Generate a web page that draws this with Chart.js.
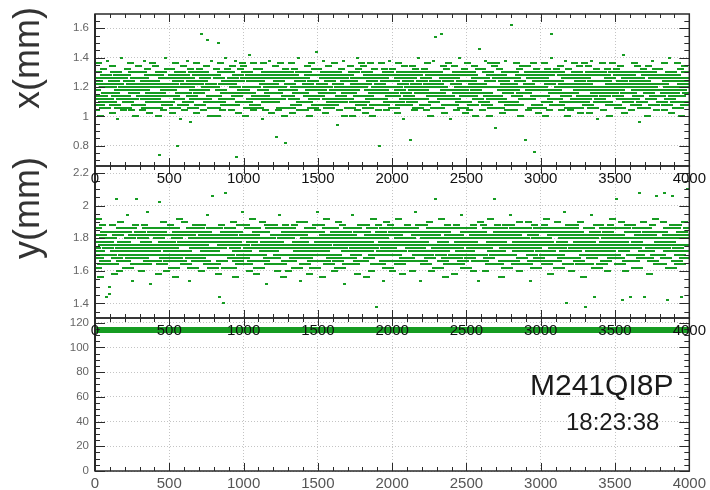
<!DOCTYPE html>
<html>
<head>
<meta charset="utf-8">
<script src="https://cdn.jsdelivr.net/npm/chart.js@4.4.1/dist/chart.umd.min.js"></script>
<style>
  html, body { margin: 0; padding: 0; background: #fff; }
  #wrap { position: relative; width: 710px; height: 490px; overflow: hidden; font-family: "Liberation Sans", Arial, sans-serif; }
  #wrap canvas { position: absolute; left: 0; top: 0; }
  .ytitle { position: absolute; font-size: 36px; line-height: 1; color: #333; white-space: nowrap; transform: translate(-50%, -50%) rotate(-90deg); }
  .note { position: absolute; line-height: 1; color: #1a1a1a; white-space: nowrap; }
</style>
</head>
<body>
<div id="wrap">
  <canvas id="cRate" width="710" height="490"></canvas>
  <canvas id="cY" width="710" height="490"></canvas>
  <canvas id="cX" width="710" height="490"></canvas>
  <div class="ytitle" style="left:27px;top:58px">x(mm)</div>
  <div class="ytitle" style="left:27px;top:208px">y(mm)</div>
  <div class="note" style="left:530px;top:370px;font-size:30px">M241QI8P</div>
  <div class="note" style="left:566px;top:410px;font-size:24px">18:23:38</div>
</div>
<script>
// ── beam position monitor, 4000 events ────────────────────────────────────────
// x/y positions are stored in 1/100 mm, one value every SAMPLE_STEP events.
const SAMPLE_STEP = 5;

const xTicks    = [0, 500, 1000, 1500, 2000, 2500, 3000, 3500, 4000];
const xPosTicks = [0.8, 1, 1.2, 1.4, 1.6];
const yPosTicks = [1.4, 1.6, 1.8, 2, 2.2];
const rateTicks = [0, 20, 40, 60, 80, 100, 120];

const xPosCenti = [
  118,130,104,124,112,136,108,122,100,126,114,132,110,120,106,128,116,138,112,122,
  126,110,120,102,134,116,124,108,130,114,98,122,128,106,118,140,112,126,104,120,
  114,128,106,120,132,110,124,118,136,104,122,112,130,116,100,126,108,120,134,118,
  108,122,130,114,104,126,118,138,112,124,106,132,120,102,128,116,110,122,136,114,
  124,112,134,106,120,128,100,74,116,130,110,122,104,126,114,140,118,108,132,120,
  110,126,118,132,102,122,114,128,106,136,120,80,124,112,130,98,116,126,108,134,
  128,104,122,116,138,110,126,120,132,96,114,124,106,130,118,112,136,102,122,128,
  116,132,108,156,124,130,104,118,126,112,134,120,152,110,128,100,122,138,114,106,
  120,106,128,114,132,100,150,126,110,136,118,104,130,122,112,140,116,108,124,132,
  112,130,116,122,104,134,126,108,120,138,72,114,128,102,124,116,132,110,136,118,
  134,118,100,126,110,130,120,106,142,116,128,112,124,104,136,120,108,132,114,126,
  106,124,132,112,128,98,118,136,114,122,104,130,110,126,120,138,116,102,128,112,
  122,110,126,134,86,116,130,104,124,112,136,120,106,128,118,100,132,82,114,126,
  130,114,106,122,136,118,102,128,112,132,120,108,126,116,140,104,124,130,110,120,
  116,126,120,104,130,110,134,122,114,100,128,118,136,106,124,112,132,120,144,108,
  104,132,114,128,118,122,108,138,116,126,102,130,120,112,134,106,124,116,128,110,
  126,108,136,118,112,130,94,122,128,104,120,114,132,110,126,138,100,118,124,116,
  112,128,120,106,134,116,124,100,130,118,110,126,122,140,104,132,114,120,108,136,
  120,134,110,126,102,122,130,114,106,128,118,136,112,124,100,116,132,108,126,120,
  118,104,128,80,122,136,112,126,118,108,132,116,124,104,130,120,110,138,114,128,
  132,116,106,124,114,128,120,102,136,110,126,118,108,130,122,98,134,112,128,116,
  108,124,130,114,120,84,126,110,134,118,104,132,122,112,128,106,140,120,116,130,
  124,112,118,132,108,126,104,136,116,122,130,100,128,114,120,138,110,124,154,106,
  114,130,122,106,128,116,156,120,112,134,102,126,118,132,108,124,136,114,98,128,
  128,118,108,126,134,112,122,104,130,116,140,120,110,128,124,106,118,132,114,102,
  110,136,120,116,104,130,124,114,128,108,122,134,100,118,126,112,132,146,120,116,
  122,104,132,110,126,120,138,108,116,130,114,100,124,136,112,128,106,120,134,92,
  136,114,126,120,106,132,112,128,102,118,124,110,138,122,130,104,116,126,108,120,
  162,122,110,130,118,104,126,136,114,120,108,132,124,100,128,116,134,112,120,84,
  116,128,134,104,122,112,130,118,126,106,136,120,76,114,132,108,124,102,128,118,
  130,106,120,126,114,136,100,124,110,132,118,128,104,122,140,156,112,130,116,108,
  118,132,112,124,130,108,120,134,104,116,128,122,110,138,114,126,100,120,132,106,
  104,120,128,116,110,126,136,112,122,130,106,118,134,124,102,128,114,120,110,136,
  126,112,122,108,134,118,102,130,138,114,124,106,128,120,116,132,98,124,110,118,
  112,130,116,136,120,104,128,114,124,110,132,118,100,126,122,108,136,116,130,120,
  120,108,132,122,114,128,118,106,134,124,112,142,120,102,130,116,126,110,122,128,
  128,116,104,130,120,112,136,124,108,118,134,114,126,96,122,130,110,120,106,132,
  106,124,118,128,100,134,116,122,130,112,120,138,108,126,114,132,104,118,128,122,
  132,114,126,110,122,118,104,136,116,128,108,124,120,140,112,130,102,126,118,114,
  116,128,110,120,136,106,124,114,132,118,100,126,122,110,134,120,108,130,116,124
];

const yPosCenti = [
  174,186,162,178,168,192,172,156,182,170,188,164,176,180,166,184,144,174,178,150,
  146,180,170,188,164,176,158,184,172,204,168,182,176,160,190,174,166,186,178,170,
  178,166,184,172,194,162,176,180,168,186,154,174,182,170,188,164,204,176,172,182,
  170,184,176,160,180,168,188,174,164,178,196,172,186,166,176,152,182,170,184,174,
  182,172,166,186,176,158,180,202,170,184,164,174,190,178,168,182,160,176,186,172,
  166,178,188,170,182,174,162,186,176,156,180,168,184,172,192,176,166,182,170,178,
  176,190,172,164,184,178,170,154,182,168,186,176,162,180,174,188,170,166,178,184,
  186,168,180,174,160,188,176,182,166,172,184,194,170,178,164,180,174,186,206,162,
  172,182,164,178,186,170,158,144,180,174,188,166,176,140,182,208,170,184,162,178,
  180,170,186,162,176,182,168,190,174,156,178,184,166,172,188,176,164,180,170,196,
  168,176,182,172,188,164,180,174,160,186,170,178,192,166,182,174,186,158,176,180,
  184,162,174,180,170,190,176,166,184,172,178,152,188,174,168,180,164,186,176,172,
  174,188,168,176,182,160,186,178,170,194,164,182,174,180,156,176,188,170,166,184,
  160,180,176,186,166,174,182,170,188,168,176,184,162,178,172,190,174,154,182,170,
  178,172,190,164,180,176,168,184,174,158,186,170,180,166,184,176,162,188,172,196,
  170,184,166,178,174,188,156,180,172,182,166,176,192,170,186,164,178,174,182,168,
  186,174,180,160,184,170,178,166,190,176,162,182,174,188,168,180,152,176,184,172,
  164,178,186,172,168,182,176,194,164,180,174,170,186,158,178,184,166,188,172,176,
  176,166,174,184,180,156,188,172,178,168,182,176,160,186,174,192,170,180,164,138,
  182,188,170,176,164,184,172,180,154,178,186,166,174,190,170,162,182,176,188,174,
  172,160,184,178,186,170,166,182,176,192,164,180,172,186,158,176,184,168,178,180,
  188,176,168,166,180,174,184,160,186,172,178,196,166,182,176,170,188,174,154,184,
  166,182,178,188,172,164,180,176,170,184,190,168,176,160,186,180,172,182,204,176,
  180,174,162,184,176,186,170,192,166,178,172,184,156,180,168,188,174,164,182,176,
  174,186,176,170,158,180,188,168,182,174,164,178,186,172,194,166,180,176,170,184,
  162,176,184,180,172,168,186,174,178,160,188,170,182,176,166,184,154,180,174,190,
  184,170,166,188,176,182,160,180,174,186,168,176,192,164,178,182,172,186,204,170,
  176,180,188,164,184,172,178,156,186,170,182,166,174,188,180,162,176,184,170,194,
  170,188,174,180,166,186,176,182,164,178,172,190,160,184,176,168,186,174,180,172,
  186,164,178,172,190,176,154,184,170,182,166,178,188,174,162,180,176,186,168,184,
  178,172,184,166,176,188,170,180,192,164,178,184,172,158,186,176,170,182,174,166,
  166,184,176,190,170,162,182,174,186,178,168,180,196,172,184,140,176,164,188,180,
  182,176,160,180,186,174,168,188,172,176,184,166,178,190,164,182,174,156,180,170,
  138,170,182,176,164,186,178,172,194,168,180,174,144,184,170,188,162,176,182,174,
  176,188,172,164,182,170,186,178,166,180,160,184,176,172,188,174,192,168,178,182,
  170,180,204,186,174,168,182,164,176,190,142,178,172,186,160,180,174,188,166,176,
  184,144,176,170,188,180,166,184,174,162,178,186,170,208,182,176,168,180,190,172,
  144,176,186,180,168,184,172,158,182,174,188,166,180,176,192,170,206,184,174,164,
  178,170,164,184,176,190,208,174,180,168,142,182,186,172,178,162,176,188,206,180,
  172,186,180,166,182,174,188,170,164,144,184,176,172,190,168,180,176,182,210,186
];

// third pad: event counter, flat over the whole run
const rateSamples = [0, 500, 1000, 1500, 2000, 2500, 3000, 3500, 4000];
const rateValues  = [114, 114, 114, 114, 114, 114, 114, 114, 114];

// ── look ──────────────────────────────────────────────────────────────────────
const GREEN = '#169c22';
const FONT  = '"Liberation Sans", Arial, sans-serif';

// flat green markers: long in the crowded core (where ROOT's dots merge
// into strokes), shorter in the tails, plain dots for the stragglers
function flatMarker(w) {
  const c = document.createElement('canvas');
  c.width = w;
  c.height = 2;
  const g = c.getContext('2d');
  g.fillStyle = GREEN;
  g.fillRect(0, 0, w, 2);
  return c;
}
const markerCore = flatMarker(12);
const markerTail = flatMarker(7);
const markerDot  = flatMarker(3);

function toPoints(values) {
  return values.map((v, i) => ({ x: i * SAMPLE_STEP, y: v / 100 }));
}

function stepsIn(min, max, step) {
  const out = [];
  for (let k = Math.ceil(min / step - 1e-9); k * step <= max + 1e-9; k++) out.push(k * step);
  return out;
}

// frame + inward ticks on all four sides (ROOT pad style)
const frameTicks = {
  id: 'frameTicks',
  afterDraw(chart, args, o) {
    const { ctx, chartArea: a } = chart;
    const sx = chart.scales.x, sy = chart.scales.y;
    ctx.save();
    ctx.strokeStyle = '#2a2a2a';
    ctx.lineWidth = 1;
    ctx.beginPath();
    const tx = (v, len) => {
      const p = Math.round(sx.getPixelForValue(v)) + 0.5;
      ctx.moveTo(p, a.bottom); ctx.lineTo(p, a.bottom - len);
      ctx.moveTo(p, a.top);    ctx.lineTo(p, a.top + len);
    };
    const ty = (v, len) => {
      const p = Math.round(sy.getPixelForValue(v)) + 0.5;
      ctx.moveTo(a.left, p);  ctx.lineTo(a.left + len, p);
      ctx.moveTo(a.right, p); ctx.lineTo(a.right - len, p);
    };
    stepsIn(sx.min, sx.max, o.xMinor).forEach(v => tx(v, 4));
    xTicks.forEach(v => tx(v, 8));
    stepsIn(sy.min, sy.max, o.yMinor).forEach(v => ty(v, 5));
    o.yMajor.forEach(v => ty(v, 10));
    ctx.stroke();

    ctx.lineWidth = 1.5;
    ctx.strokeRect(a.left, a.top, a.right - a.left, a.bottom - a.top);
    ctx.lineWidth = 2;
    ctx.beginPath();
    ctx.moveTo(a.left, a.top); ctx.lineTo(a.left, a.bottom);
    ctx.stroke();
    ctx.restore();
  }
};

function makePad(id, pad) {
  return new Chart(document.getElementById(id), {
    type: 'scatter',
    data: { datasets: pad.datasets },
    options: {
      responsive: false,
      animation: false,
      devicePixelRatio: 1,
      events: [],
      layout: { padding: { top: pad.top, bottom: 490 - pad.bottom - 19, left: 0, right: 18 } },
      plugins: {
        legend: { display: false },
        tooltip: { enabled: false },
        frameTicks: { xMinor: 100, yMinor: pad.yMinor, yMajor: pad.yTicks }
      },
      scales: {
        x: {
          type: 'linear', min: 0, max: 4000,
          afterFit: s => { s.height = 19; },
          afterBuildTicks: s => { s.ticks = xTicks.map(v => ({ value: v })); },
          grid: { color: '#c4c4c4', lineWidth: 1, drawTicks: false },
          border: { display: false, dash: [1, 2] },
          ticks: { padding: 4, color: pad.xLabelColor, font: { family: FONT, size: 15 }, maxRotation: 0,
                   callback: v => String(v) }
        },
        y: {
          type: 'linear', min: pad.yMin, max: pad.yMax,
          afterFit: s => { s.width = 95; },
          afterBuildTicks: s => { s.ticks = pad.yTicks.map(v => ({ value: v })); },
          grid: { color: '#c4c4c4', lineWidth: 1, drawTicks: false },
          border: { display: false, dash: [1, 2] },
          ticks: { padding: 6, color: '#666', font: { family: FONT, size: 11.5 },
                   callback: v => String(+v.toFixed(2)) }
        }
      }
    },
    plugins: [frameTicks]
  });
}

const scatterSet = (values, centre) => ({
  data: toPoints(values),
  showLine: false,
  pointStyle: c => {
    const d = Math.abs(c.raw.y - centre);
    return d <= 0.13 ? markerCore : d <= 0.19 ? markerTail : markerDot;
  },
  pointRadius: 2,
  pointHoverRadius: 2
});

// bottom pad first so the upper pads' axis labels sit over it
makePad('cRate', {
  top: 318, bottom: 471, yMin: 0, yMax: 123.8, yTicks: rateTicks, yMinor: 5, xLabelColor: '#555',
  datasets: [{
    type: 'line',
    data: rateSamples.map((s, i) => ({ x: s, y: rateValues[i] })),
    borderColor: GREEN,
    borderWidth: 6,
    pointRadius: 0,
    fill: false
  }]
});

makePad('cY', {
  top: 166, bottom: 318, yMin: 1.311, yMax: 2.243, yTicks: yPosTicks, yMinor: 0.05, xLabelColor: '#111',
  datasets: [scatterSet(yPosCenti, 1.74)]
});

makePad('cX', {
  top: 14, bottom: 166, yMin: 0.662, yMax: 1.697, yTicks: xPosTicks, yMinor: 0.05, xLabelColor: '#111',
  datasets: [scatterSet(xPosCenti, 1.18)]
});
</script>
</body>
</html>
